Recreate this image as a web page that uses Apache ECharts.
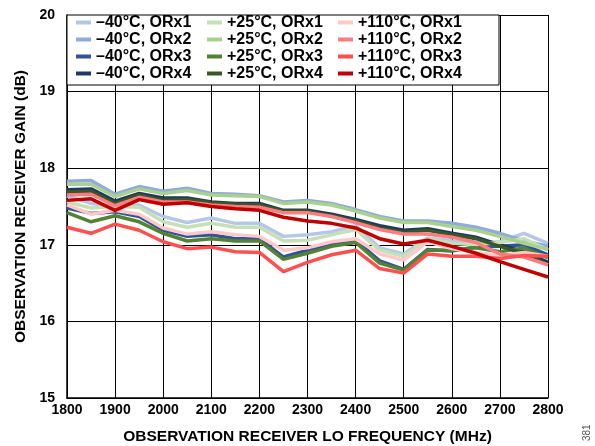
<!DOCTYPE html>
<html>
<head>
<meta charset="utf-8">
<script src="https://cdn.jsdelivr.net/npm/echarts@6/dist/echarts.min.js"></script>
<style>
html,body{margin:0;padding:0;background:#fff;}
#c{width:595px;height:446px;}
</style>
</head>
<body>
<div id="c"></div>
<script>
const freqs = [1800,1850,1900,1950,2000,2050,2100,2150,2200,2250,2300,2350,2400,2450,2500,2550,2600,2650,2700,2750,2800];

const m40_orx1 = [17.64,17.54,17.50,17.52,17.37,17.29,17.35,17.28,17.28,17.11,17.13,17.17,17.25,16.96,16.88,17.09,17.05,17.02,17.04,17.15,17.02];
const m40_orx2 = [17.83,17.84,17.66,17.76,17.70,17.74,17.67,17.66,17.64,17.56,17.58,17.54,17.46,17.37,17.31,17.31,17.28,17.23,17.15,17.05,16.98];
const m40_orx3 = [17.48,17.41,17.43,17.37,17.19,17.11,17.13,17.08,17.08,16.84,16.93,17.01,17.06,16.79,16.68,16.94,16.92,16.97,16.98,17.00,16.87];
const m40_orx4 = [17.72,17.73,17.57,17.67,17.61,17.61,17.56,17.54,17.54,17.45,17.45,17.40,17.33,17.25,17.19,17.21,17.15,17.10,17.00,16.91,16.77];

const p25_orx1 = [17.56,17.48,17.50,17.49,17.30,17.23,17.28,17.23,17.23,17.05,17.06,17.13,17.20,16.93,16.85,17.08,17.02,17.00,17.03,17.08,16.93];
const p25_orx2 = [17.79,17.79,17.63,17.73,17.67,17.71,17.65,17.64,17.63,17.54,17.56,17.52,17.44,17.35,17.29,17.29,17.24,17.19,17.11,17.02,16.94];
const p25_orx3 = [17.42,17.30,17.38,17.30,17.15,17.05,17.08,17.05,17.05,16.81,16.89,16.98,17.03,16.76,16.67,16.93,16.93,16.96,16.91,16.96,16.83];
const p25_orx4 = [17.69,17.70,17.54,17.65,17.58,17.59,17.55,17.53,17.52,17.44,17.44,17.38,17.31,17.22,17.16,17.19,17.13,17.08,16.98,16.89,16.74];

const p110_orx1 = [17.52,17.40,17.45,17.40,17.22,17.14,17.17,17.13,17.11,16.93,16.96,17.04,17.08,16.88,16.80,17.04,16.95,16.90,16.86,16.90,16.85];
const p110_orx2 = [17.65,17.66,17.51,17.62,17.56,17.56,17.52,17.50,17.49,17.42,17.42,17.37,17.29,17.20,17.14,17.14,17.10,17.03,16.88,16.84,16.74];
const p110_orx3 = [17.23,17.15,17.27,17.19,17.04,16.95,16.97,16.91,16.90,16.65,16.77,16.87,16.93,16.69,16.63,16.88,16.85,16.85,16.82,16.86,16.85];
const p110_orx4 = [17.58,17.60,17.45,17.59,17.53,17.55,17.50,17.47,17.45,17.36,17.31,17.28,17.22,17.08,17.01,17.06,16.98,16.89,16.78,16.68,16.58];

const yTicks = [15,16,17,18,19,20];
const xTicks = [1800,1900,2000,2100,2200,2300,2400,2500,2600,2700,2800];

const seriesDefs = [
  {name:'\u201340\u00b0C, ORx1', data:m40_orx1, color:'#B4C7E7'},
  {name:'\u201340\u00b0C, ORx2', data:m40_orx2, color:'#8FAADC'},
  {name:'\u201340\u00b0C, ORx3', data:m40_orx3, color:'#2F5597'},
  {name:'\u201340\u00b0C, ORx4', data:m40_orx4, color:'#203864'},
  {name:'+25\u00b0C, ORx1', data:p25_orx1, color:'#C5E0B4'},
  {name:'+25\u00b0C, ORx2', data:p25_orx2, color:'#A9D18E'},
  {name:'+25\u00b0C, ORx3', data:p25_orx3, color:'#548235'},
  {name:'+25\u00b0C, ORx4', data:p25_orx4, color:'#385723'},
  {name:'+110\u00b0C, ORx1', data:p110_orx1, color:'#FFC9C9'},
  {name:'+110\u00b0C, ORx2', data:p110_orx2, color:'#FF7C80'},
  {name:'+110\u00b0C, ORx3', data:p110_orx3, color:'#FF5050'},
  {name:'+110\u00b0C, ORx4', data:p110_orx4, color:'#C00000'}
];

const FONT = '"Liberation Sans", Arial, Helvetica, sans-serif';

const chart = echarts.init(document.getElementById('c'), null, {renderer:'canvas'});

function legendCol(left, names){
  return {
    orient:'vertical', left:left, top:14, itemWidth:15, itemHeight:4, itemGap:0,
    icon:'rect', z:10, padding:0,
    textStyle:{fontFamily:FONT, fontWeight:'bold', fontSize:16, color:'#000', lineHeight:17, padding:[0,0,0,0]},
    data:names
  };
}

const option = {
  animation:false,
  backgroundColor:'#fff',
  grid:{left:67, right:47, top:15, bottom:48, containLabel:false, outerBoundsMode:'none'},
  legend:[
    legendCol(76, seriesDefs.slice(0,4).map(s=>s.name)),
    legendCol(207, seriesDefs.slice(4,8).map(s=>s.name)),
    legendCol(338, seriesDefs.slice(8,12).map(s=>s.name))
  ],
  graphic:[
    {type:'rect', shape:{x:67, y:15, width:432, height:70}, style:{fill:'#fff', stroke:'#000', lineWidth:1}, z:5},
    {type:'text', x:582, y:441, rotation:Math.PI/2, style:{text:'381', fill:'#555', font:'10px '+FONT}, z:10}
  ],
  xAxis:{
    type:'value', min:1800, max:2800, interval:100,
    name:'OBSERVATION RECEIVER LO FREQUENCY (MHz)', nameLocation:'middle', nameGap:31,
    nameTextStyle:{fontFamily:FONT, fontWeight:'bold', fontSize:15.5, color:'#000'},
    axisLine:{show:true, lineStyle:{color:'#000', width:1.5}},
    axisTick:{show:false},
    axisLabel:{fontFamily:FONT, fontWeight:'bold', fontSize:14, color:'#000', margin:5,
      formatter:function(v){ return String(v); }},
    splitLine:{show:true, lineStyle:{color:'#000', width:1}}
  },
  yAxis:{
    type:'value', min:15, max:20, interval:1,
    name:'OBSERVATION RECEIVER GAIN (dB)', nameLocation:'middle', nameGap:37,
    nameTextStyle:{fontFamily:FONT, fontWeight:'bold', fontSize:15.5, color:'#000'},
    axisLine:{show:true, lineStyle:{color:'#000', width:1.5}},
    axisTick:{show:false},
    axisLabel:{fontFamily:FONT, fontWeight:'bold', fontSize:14, color:'#000', margin:12},
    splitLine:{show:true, lineStyle:{color:'#000', width:1}}
  },
  series: seriesDefs.map(s=>({
    name:s.name, type:'line', showSymbol:false, symbol:'none',
    data:freqs.map((f,i)=>[f, s.data[i]]),
    lineStyle:{color:s.color, width:3.5},
    itemStyle:{color:s.color},
    z:2
  }))
};
chart.setOption(option);
</script>
</body>
</html>
